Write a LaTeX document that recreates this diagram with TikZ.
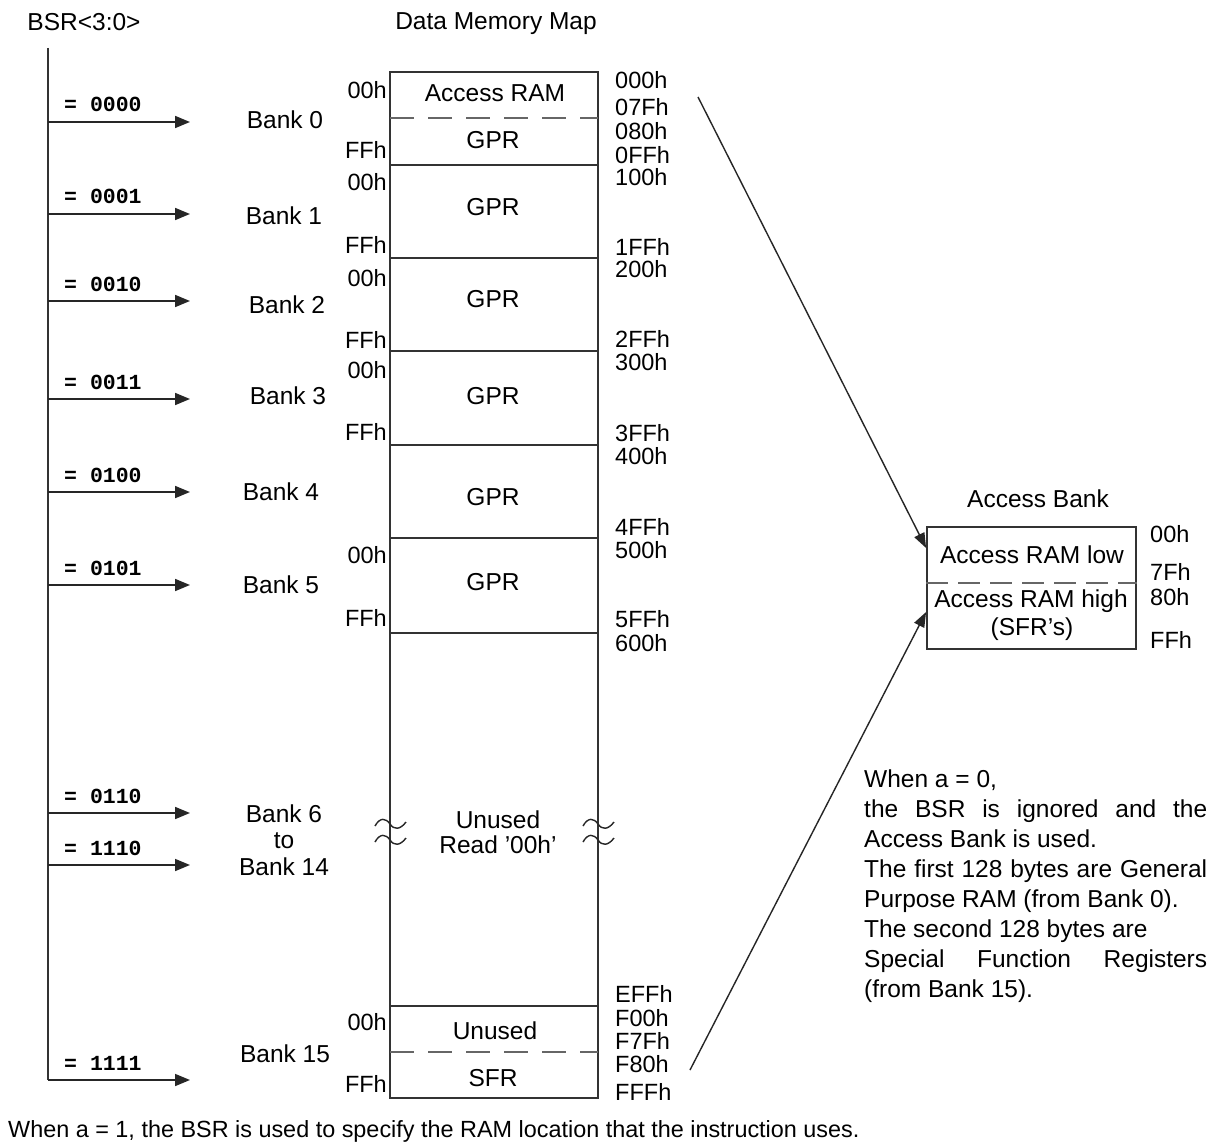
\documentclass[tikz,border=0pt]{standalone}
\usepackage{fontspec}
\setmainfont{Liberation Sans}
\setmonofont{Liberation Mono}
\usetikzlibrary{arrows.meta}
\begin{document}
\begin{tikzpicture}[x=1pt,y=-1pt,
  txt/.style={font=\fontsize{24.5}{26.5}\selectfont, inner sep=0pt},
  hex/.style={font=\fontsize{23.5}{23.5}\selectfont, inner sep=0pt},
  bits/.style={font=\fontsize{21.5}{22}\selectfont\ttfamily\bfseries, inner sep=0pt, anchor=base west},
  ln/.style={line width=1.8pt, draw=black!80},
  arr/.style={line width=1.7pt, draw=black!85, -{Triangle[length=15pt,width=12pt]}},
  dashln/.style={line width=1.6pt, draw=black!60, dash pattern=on 24pt off 14pt},
  brk/.style={line width=1.4pt, draw=black!85}
]
\useasboundingbox[fill=white] (0,0) rectangle (1219,1145);

% titles
\node[txt] (bsr) at (84,22) {BSR<3:0>};
\node[txt] (title) at (496,24) {Data Memory Map};

% bus
\coordinate (bustop) at (48,48);
\coordinate (busbot) at (48,1080);
\draw[ln] (bustop) -- (busbot);

% bank arrows
\foreach \y/\b/\n in {122/0000/a, 214/0001/b, 301/0010/c, 399/0011/d, 492/0100/e, 585/0101/f, 813/0110/g, 865/1110/h, 1080/1111/i}{
  \coordinate (s\n) at (48,\y);
  \coordinate (e\n) at (190,\y);
  \draw[arr] (s\n) -- (e\n);
  \node[bits] (l\n) at (64,\y-10) {= \b};
}

% bank labels
\node[txt] (bk0) at (285,120) {Bank 0};
\node[txt] (bk1) at (284,216) {Bank 1};
\node[txt] (bk2) at (287,305) {Bank 2};
\node[txt] (bk3) at (288,396) {Bank 3};
\node[txt] (bk4) at (281,492) {Bank 4};
\node[txt] (bk5) at (281,585) {Bank 5};
\node[txt, align=center] (bk6) at (284,840) {Bank 6\\to\\Bank 14};
\node[txt] (bk15) at (285,1054) {Bank 15};

% memory map
\draw[ln] (390,72) rectangle (598,1098);
\foreach \y in {165,258,351,445,538,633,1006}{
  \draw[ln] (390,\y) -- (598,\y);
}
\draw[dashln] (390,118) -- (598,118);
\draw[dashln] (390,1052) -- (598,1052);

\node[txt] (m0) at (495,93) {Access RAM};
\node[txt] (m1) at (493,140) {GPR};
\node[txt] (m2) at (493,207) {GPR};
\node[txt] (m3) at (493,299) {GPR};
\node[txt] (m4) at (493,396) {GPR};
\node[txt] (m5) at (493,497) {GPR};
\node[txt] (m6) at (493,582) {GPR};
\node[txt, align=center, font=\fontsize{24.5}{25}\selectfont] (m7) at (498,832) {Unused\\Read '00h'};
\node[txt] (m8) at (495,1031) {Unused};
\node[txt] (m9) at (493,1078) {SFR};

% break marks
\foreach \x in {390,598}{
  \foreach \y in {824,840}{
    \draw[brk] (\x-15,\y+2) .. controls (\x-10,\y-7) and (\x-4,\y-6) .. (\x,\y) .. controls (\x+4,\y+6) and (\x+10,\y+6) .. (\x+16,\y-2);
  }
}

% left hex labels
\foreach \y/\t in {90/00h,150/FFh,182/00h,245/FFh,278/00h,340/FFh,370/00h,432/FFh,555/00h,618/FFh,1022/00h,1084/FFh}{
  \node[hex, anchor=east] at (387,\y) {\t};
}
% right hex labels
\foreach \y/\t in {80/000h,107/07Fh,131/080h,155/0FFh,177/100h,247/1FFh,269/200h,339/2FFh,362/300h,433/3FFh,456/400h,527/4FFh,550/500h,619/5FFh,643/600h,994/EFFh,1018/F00h,1041/F7Fh,1064/F80h,1092/FFFh}{
  \node[hex, anchor=west] at (615,\y) {\t};
}

% access bank
\node[txt] (abt) at (1038,499) {Access Bank};
\node[draw=black!80, line width=1.8pt, minimum width=209pt, minimum height=122pt, inner sep=0pt] (ab) at (1031.5,588) {};
\draw[dashln, dash pattern=on 22pt off 10pt] (ab.west |- 0,583) -- (ab.east |- 0,583);
\node[txt] (abl) at (1032,555) {Access RAM low};
\node[txt] (abh) at (1031,601) {Access RAM high};
\node[txt] (abs) at (1032,629) {(SFR's)};
\node[hex, anchor=west] at (1150,534) {00h};
\node[hex, anchor=west] at (1150,572) {7Fh};
\node[hex, anchor=west] at (1150,597) {80h};
\node[hex, anchor=west] at (1150,640) {FFh};

% access arrows
\coordinate (from1) at (698,97);
\coordinate (to1) at (ab.west |- 0,548);
\coordinate (from2) at (690,1070);
\coordinate (to2) at (ab.west |- 0,612);
\draw[line width=1.4pt, draw=black!85, -{Triangle[length=15pt,width=11pt]}] (from1) -- (to1);
\draw[line width=1.4pt, draw=black!85, -{Triangle[length=15pt,width=11pt]}] (from2) -- (to2);

% explanation
\node[anchor=north west, inner sep=0pt, text width=343pt, align=justify,
      font=\fontsize{24.5}{30}\selectfont] (expl) at (864,770)
{When a = 0,\\
the BSR is ignored and the\linebreak
Access Bank is used.\\
The first 128 bytes are General\linebreak
Purpose RAM (from Bank 0).\\
The second 128 bytes are\\
Special Function Registers\linebreak
(from Bank 15).};

\node[anchor=west, inner sep=0pt, font=\fontsize{23.4}{24}\selectfont] (bottom) at (8,1131)
{When a = 1, the BSR is used to specify the RAM location that the instruction uses.};
\end{tikzpicture}
\end{document}
